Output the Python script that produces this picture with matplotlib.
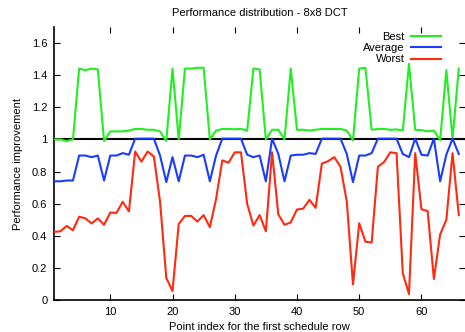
import matplotlib
matplotlib.use("Agg")
import matplotlib.pyplot as plt
import numpy as np

plt.rcParams['font.family'] = ['Liberation Sans', 'DejaVu Sans']

x = list(range(1, 67))

best = [1.0, 1.0, 0.99, 1.0, 1.44, 1.43, 1.44, 1.435, 0.99, 1.05,
        1.05, 1.05, 1.055, 1.065, 1.065, 1.06, 1.06, 1.05, 0.99, 1.44,
        1.0, 1.44, 1.44, 1.445, 1.445, 1.0, 1.055, 1.065, 1.065, 1.063,
        1.065, 1.055, 1.44, 1.435, 1.0, 1.06, 1.06, 1.0, 1.44, 1.06,
        1.06, 1.055, 1.06, 1.065, 1.065, 1.065, 1.065, 1.055, 0.995, 1.44,
        1.445, 1.06, 1.065, 1.065, 1.06, 1.062, 1.055, 1.47, 1.06, 1.058,
        1.05, 1.055, 0.995, 1.43, 1.005, 1.44]

average = [0.74, 0.74, 0.745, 0.745, 0.90, 0.90, 0.89, 0.90, 0.745, 0.90,
           0.90, 0.915, 0.905, 1.005, 1.005, 1.005, 1.005, 0.90, 0.735, 0.89,
           0.74, 0.90, 0.90, 0.89, 0.905, 0.74, 0.90, 1.005, 1.005, 1.005,
           1.005, 0.905, 0.89, 0.90, 0.74, 1.005, 0.91, 0.74, 0.90, 0.905,
           0.905, 0.915, 0.91, 1.005, 1.005, 1.005, 1.005, 0.91, 0.735, 0.90,
           0.90, 0.915, 1.005, 1.005, 1.005, 1.005, 0.91, 0.89, 1.005, 0.905,
           0.90, 1.005, 0.74, 0.905, 1.005, 0.91]

worst = [0.426, 0.43, 0.463, 0.436, 0.52, 0.51, 0.478, 0.51, 0.47, 0.546,
         0.544, 0.613, 0.553, 0.925, 0.862, 0.925, 0.894, 0.613, 0.14, 0.058,
         0.475, 0.525, 0.525, 0.49, 0.53, 0.455, 0.63, 0.87, 0.855, 0.92,
         0.92, 0.60, 0.465, 0.53, 0.43, 0.92, 0.535, 0.47, 0.485, 0.565,
         0.57, 0.625, 0.575, 0.85, 0.865, 0.89, 0.83, 0.615, 0.10, 0.48,
         0.365, 0.36, 0.83, 0.86, 0.92, 0.915, 0.17, 0.04, 0.915, 0.567,
         0.555, 0.133, 0.41, 0.50, 0.915, 0.53]

xticks = [10, 20, 30, 40, 50, 60]
yticks = [0, 0.2, 0.4, 0.6, 0.8, 1.0, 1.2, 1.4, 1.6]
ytick_labels = ['0', '0.2', '0.4', '0.6', '0.8', '1', '1.2', '1.4', '1.6']

fig = plt.figure(figsize=(4.65, 3.32), dpi=100)
ax = fig.add_axes([0.1167, 0.0949, 0.8833, 0.8247])

ax.axhline(1.0, color='black', lw=1.5, zorder=1)
ax.plot(x, best, color='#22ee22', lw=1.5, label='Best', zorder=3)
ax.plot(x, average, color='#1a3cff', lw=1.5, label='Average', zorder=3)
ax.plot(x, worst, color='#ff2a10', lw=1.5, label='Worst', zorder=3)

ax.set_xlim(1, 67)
ax.set_ylim(0, 1.7)
ax.set_xticks(xticks)
ax.set_yticks(yticks)
ax.set_yticklabels(ytick_labels)
ax.tick_params(direction='in', top=True, right=True, length=4, width=0.8,
               labelsize=8, pad=5)
for s in ['top', 'right']:
    ax.spines[s].set_visible(False)
for s in ['left', 'bottom']:
    ax.spines[s].set_linewidth(1.2)

ax.set_title('Performance distribution - 8x8 DCT', fontsize=8, pad=8)
ax.set_xlabel('Point index for the first schedule row', fontsize=8, labelpad=3)
ax.set_ylabel('Performance improvement', fontsize=8, labelpad=6)

leg = ax.legend(loc='upper right', bbox_to_anchor=(0.955, 1.0), frameon=False,
                markerfirst=False, fontsize=8, handlelength=2.7,
                labelspacing=0.1, handletextpad=0.55, borderaxespad=0.1)

fig.savefig('out.png', dpi=100)
